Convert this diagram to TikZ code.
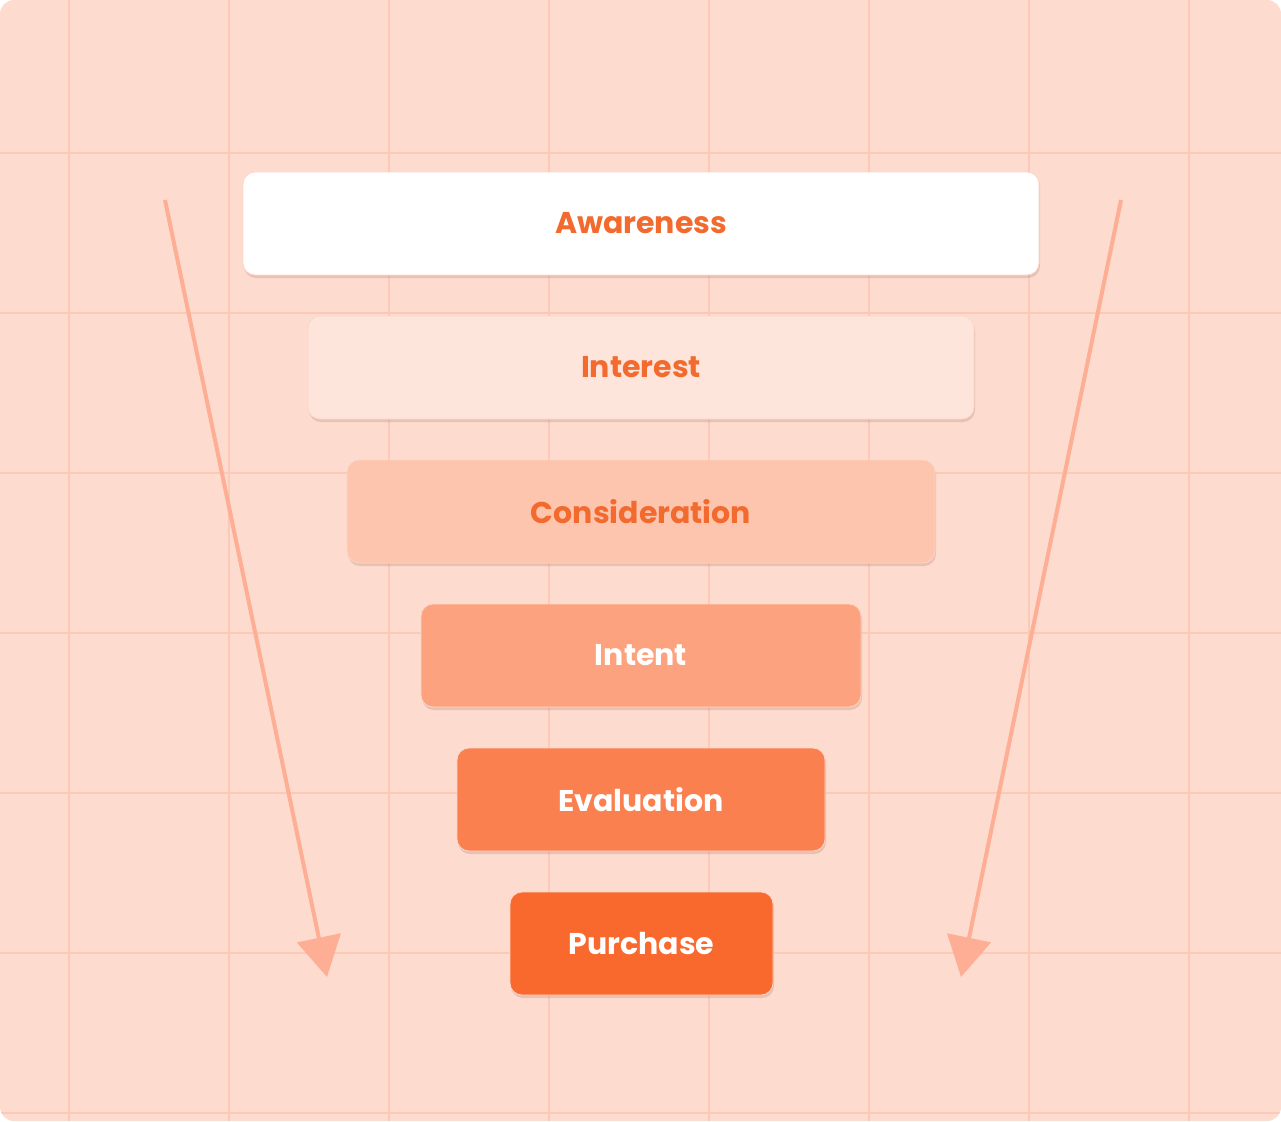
\documentclass[tikz,border=0pt]{standalone}
\usepackage{fontspec}
\setmainfont{Poppins}
\usetikzlibrary{arrows.meta}
\definecolor{bg}{HTML}{FDDBCF}
\definecolor{gridc}{HTML}{FBC9B5}
\definecolor{txt}{HTML}{F26A2E}
\definecolor{arr}{HTML}{FDAE94}
\definecolor{c1}{HTML}{FFFFFF}
\definecolor{c2}{HTML}{FDE5DC}
\definecolor{c3}{HTML}{FDC4AE}
\definecolor{c4}{HTML}{FCA27F}
\definecolor{c5}{HTML}{FA8050}
\definecolor{c6}{HTML}{F9692E}
\tikzset{
  stage/.style={rounded corners=12pt, draw=#1!85!black!10!gridc, line width=0.8pt, fill=#1},
  lbl/.style={font=\fontsize{30}{36}\selectfont\bfseries},
  flow/.style={draw=arr, line width=4pt, -{Triangle[length=40pt,width=44pt]}}
}
\begin{document}
\begin{tikzpicture}[x=1pt,y=-1pt]
\useasboundingbox (0,0) rectangle (1281,1121);
\fill[bg, rounded corners=14pt] (0,0) rectangle (1281,1121);
\begin{scope}
\clip[rounded corners=14pt] (0,0) rectangle (1281,1121);
\foreach \x in {69,229,389,549,709,869,1029,1189} \draw[gridc, line width=2pt] (\x,0) -- (\x,1121);
\foreach \y in {153,313,473,633,793,953,1113} \draw[gridc, line width=2pt] (0,\y) -- (1281,\y);
\end{scope}
\coordinate (l1) at (165,200); \coordinate (l2) at (327,977);
\coordinate (r1) at (1121,200); \coordinate (r2) at (961,977);
\draw[flow] (l1) -- (l2);
\draw[flow] (r1) -- (r2);
\foreach \n/\a/\b/\c/\d/\col/\tc/\t in {
  aw/243/172/1039/275/c1/txt/Awareness,
  in/308/316/974/419/c2/txt/Interest,
  co/347/460/935/563/c3/txt/Consideration,
  it/421/604/861/707/c4/white/Intent,
  ev/457/748/825/851/c5/white/Evaluation,
  pu/510/892/773/995/c6/white/Purchase}{
  \fill[black!25!c3, opacity=0.35, rounded corners=12pt] (\a+1,\b+3) rectangle (\c+1,\d+3);
  \draw[rounded corners=12pt, draw=c3!70!white, line width=0.8pt, fill=\col] (\a,\b) rectangle (\c,\d);
  \node[lbl, text=\tc] (\n) at ({(\a+\c)/2},{(\b+\d)/2}) {\t};
}
\end{tikzpicture}
\end{document}
